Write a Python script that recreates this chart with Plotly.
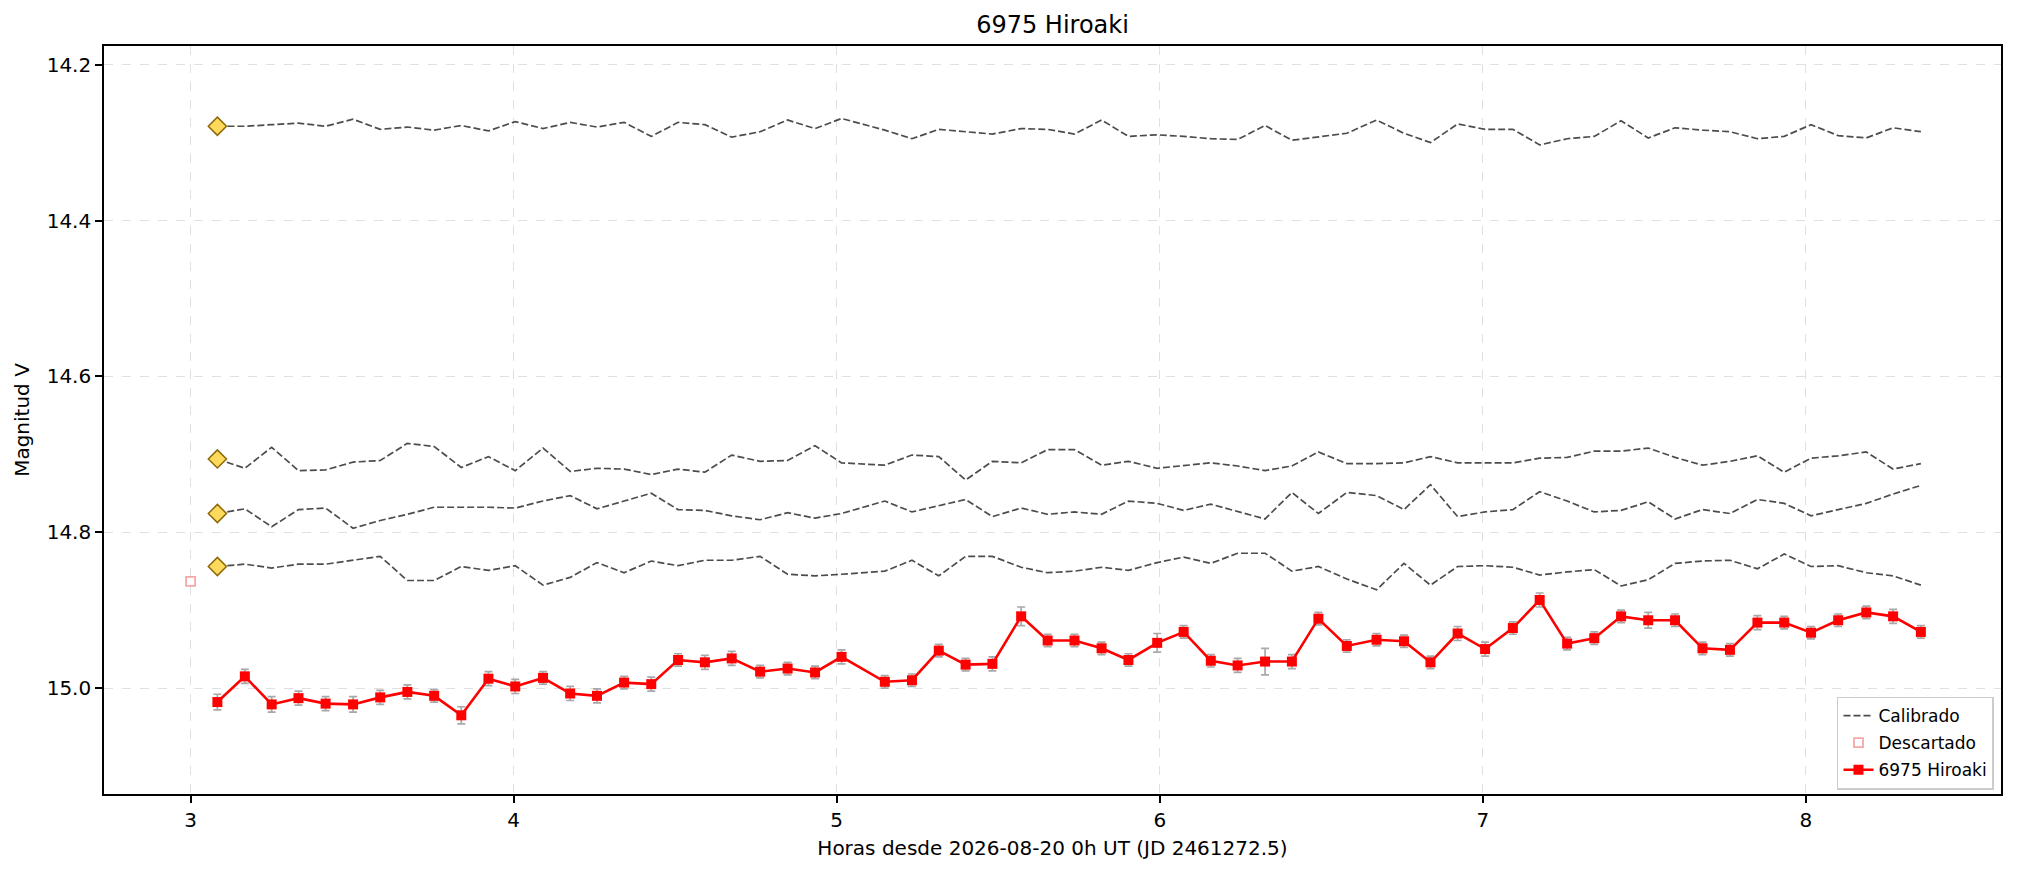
import plotly.graph_objects as go

# Time of each frame (hours since 2026-08-20 0h UT)
hours = [3.083, 3.168, 3.251, 3.334, 3.418, 3.503, 3.587, 3.671, 3.754, 3.838,
         3.922, 4.005, 4.091, 4.175, 4.258, 4.342, 4.426, 4.509, 4.592, 4.675,
         4.763, 4.848, 4.933, 5.015, 5.149, 5.233, 5.316, 5.399, 5.482, 5.571,
         5.653, 5.736, 5.820, 5.903, 5.992, 6.074, 6.158, 6.241, 6.326, 6.409,
         6.491, 6.579, 6.671, 6.756, 6.838, 6.922, 7.007, 7.093, 7.176, 7.261,
         7.345, 7.428, 7.512, 7.595, 7.680, 7.765, 7.850, 7.933, 8.016, 8.100,
         8.187, 8.270, 8.356]

# Asteroid magnitudes and errors
target_mag = [15.018, 14.985, 15.021, 15.013, 15.020, 15.021, 15.012, 15.005, 15.010, 15.035,
              14.988, 14.998, 14.987, 15.007, 15.010, 14.993, 14.995, 14.964, 14.967, 14.962,
              14.979, 14.975, 14.980, 14.960, 14.992, 14.990, 14.952, 14.970, 14.969, 14.908,
              14.939, 14.939, 14.949, 14.964, 14.942, 14.928, 14.965, 14.971, 14.966, 14.966,
              14.911, 14.946, 14.938, 14.940, 14.967, 14.930, 14.950, 14.923, 14.887, 14.943,
              14.936, 14.908, 14.913, 14.913, 14.949, 14.951, 14.916, 14.916, 14.929, 14.913,
              14.903, 14.908, 14.928]
target_err = [0.010, 0.009, 0.010, 0.009, 0.009, 0.010, 0.009, 0.009, 0.008, 0.011,
              0.009, 0.009, 0.008, 0.009, 0.009, 0.008, 0.009, 0.008, 0.009, 0.009,
              0.008, 0.008, 0.008, 0.009, 0.008, 0.008, 0.008, 0.008, 0.009, 0.012,
              0.008, 0.008, 0.008, 0.008, 0.012, 0.008, 0.008, 0.009, 0.017, 0.009,
              0.008, 0.008, 0.008, 0.008, 0.008, 0.009, 0.009, 0.008, 0.009, 0.008,
              0.008, 0.008, 0.010, 0.008, 0.008, 0.008, 0.009, 0.008, 0.008, 0.008,
              0.008, 0.009, 0.008]

# Calibrated comparison stars
comp_1 = [14.279, 14.279, 14.277, 14.275, 14.279, 14.270, 14.283, 14.280, 14.284, 14.278,
          14.285, 14.273, 14.282, 14.274, 14.280, 14.274, 14.292, 14.274, 14.277, 14.293,
          14.286, 14.271, 14.282, 14.269, 14.284, 14.295, 14.283, 14.286, 14.289, 14.282,
          14.283, 14.289, 14.271, 14.292, 14.290, 14.292, 14.295, 14.296, 14.278, 14.297,
          14.293, 14.288, 14.271, 14.288, 14.300, 14.276, 14.283, 14.283, 14.303, 14.295,
          14.292, 14.272, 14.294, 14.281, 14.284, 14.286, 14.295, 14.292, 14.277, 14.291,
          14.294, 14.281, 14.286]
comp_2 = [14.706, 14.718, 14.691, 14.721, 14.720, 14.710, 14.708, 14.686, 14.690, 14.717,
          14.703, 14.721, 14.692, 14.722, 14.718, 14.719, 14.726, 14.719, 14.723, 14.701,
          14.709, 14.708, 14.689, 14.711, 14.714, 14.701, 14.703, 14.733, 14.709, 14.711,
          14.694, 14.694, 14.714, 14.709, 14.718, 14.715, 14.711, 14.715, 14.721, 14.715,
          14.697, 14.712, 14.712, 14.711, 14.703, 14.711, 14.711, 14.711, 14.705, 14.704,
          14.696, 14.696, 14.692, 14.704, 14.714, 14.709, 14.702, 14.723, 14.705, 14.702,
          14.697, 14.719, 14.712]
comp_3 = [14.776, 14.770, 14.793, 14.771, 14.769, 14.795, 14.785, 14.777, 14.768, 14.768,
          14.768, 14.769, 14.760, 14.753, 14.770, 14.760, 14.750, 14.771, 14.772, 14.779,
          14.784, 14.775, 14.782, 14.776, 14.760, 14.774, 14.766, 14.758, 14.780, 14.769,
          14.777, 14.774, 14.777, 14.760, 14.763, 14.772, 14.764, 14.773, 14.783, 14.749,
          14.776, 14.749, 14.753, 14.771, 14.739, 14.780, 14.774, 14.771, 14.748, 14.760,
          14.774, 14.772, 14.761, 14.783, 14.771, 14.776, 14.758, 14.763, 14.779, 14.771,
          14.763, 14.751, 14.740]
comp_4 = [14.844, 14.841, 14.846, 14.841, 14.841, 14.836, 14.831, 14.862, 14.862, 14.844,
          14.849, 14.843, 14.868, 14.858, 14.839, 14.852, 14.837, 14.843, 14.836, 14.836,
          14.831, 14.854, 14.856, 14.854, 14.850, 14.836, 14.856, 14.831, 14.831, 14.845,
          14.852, 14.850, 14.845, 14.849, 14.839, 14.832, 14.840, 14.827, 14.827, 14.850,
          14.844, 14.860, 14.874, 14.840, 14.868, 14.844, 14.843, 14.845, 14.855, 14.851,
          14.848, 14.869, 14.861, 14.840, 14.837, 14.836, 14.847, 14.828, 14.844, 14.843,
          14.852, 14.856, 14.868]

# Rejected frame
discard_hours = [3.0]
discard_mag = [14.863]

FONT = "DejaVu Sans"
# page body has an 8px margin, so the figure is a bit smaller than the window
W, H = 2002, 857

fig = go.Figure()

# comparison stars, dashed
for i, comp in enumerate([comp_1, comp_2, comp_3, comp_4]):
    fig.add_trace(go.Scatter(
        x=hours, y=comp, mode="lines", name="Calibrado",
        legendgroup="cal", showlegend=(i == 0),
        line=dict(color="rgba(0,0,0,0.7)", width=1.7, dash="7px,3px"),
    ))

# reference markers at the first frame
fig.add_trace(go.Scatter(
    x=[hours[0]] * 4, y=[comp_1[0], comp_2[0], comp_3[0], comp_4[0]],
    mode="markers", showlegend=False,
    marker=dict(symbol="diamond", size=14, color="#FFD95C",
                line=dict(color="#8B6A0A", width=1.5)),
))

fig.add_trace(go.Scatter(
    x=discard_hours, y=discard_mag, mode="markers", name="Descartado",
    marker=dict(symbol="square-open", size=9, color="rgba(240,110,110,0.6)",
                line=dict(width=1.8)),
))

fig.add_trace(go.Scatter(
    x=hours, y=target_mag, mode="lines+markers", name="6975 Hiroaki",
    line=dict(color="red", width=2.6),
    marker=dict(symbol="square", size=10, color="red"),
    error_y=dict(type="data", array=target_err, color="#a8a8a8", thickness=1.7, width=4),
))

axis_style = dict(
    showline=True, mirror=True, linecolor="black", linewidth=1.6,
    ticks="outside", ticklen=7, tickwidth=1.6, tickcolor="black",
    showgrid=True, gridcolor="#e0e0e0", gridwidth=1.3, griddash="dash",
    zeroline=False, tickfont=dict(size=20, color="black", family=FONT),
)

fig.update_layout(
    width=W, height=H,
    margin=dict(l=96, r=7, t=38, b=71),
    plot_bgcolor="white", paper_bgcolor="white",
    font=dict(family=FONT, color="black"),
    title=dict(text="6975 Hiroaki", x=0.5, xref="paper", y=1 - 17 / H,
               yref="container", yanchor="middle", font=dict(size=24)),
    xaxis=dict(range=[2.732, 8.604], tickvals=[3, 4, 5, 6, 7, 8],
               title=dict(text="Horas desde 2026-08-20 0h UT (JD 2461272.5)",
                          font=dict(size=20), standoff=10),
               **axis_style),
    yaxis=dict(range=[15.136, 14.176], tickvals=[14.2, 14.4, 14.6, 14.8, 15.0],
               tickformat=".1f",
               title=dict(text="Magnitud V", font=dict(size=20), standoff=12),
               **axis_style),
    legend=dict(x=0.9963, y=0.006, xanchor="right", yanchor="bottom",
                bgcolor="rgba(255,255,255,0.8)", bordercolor="#cccccc", borderwidth=1.5,
                font=dict(size=17), tracegroupgap=2),
)

fig.write_html("out.html")
